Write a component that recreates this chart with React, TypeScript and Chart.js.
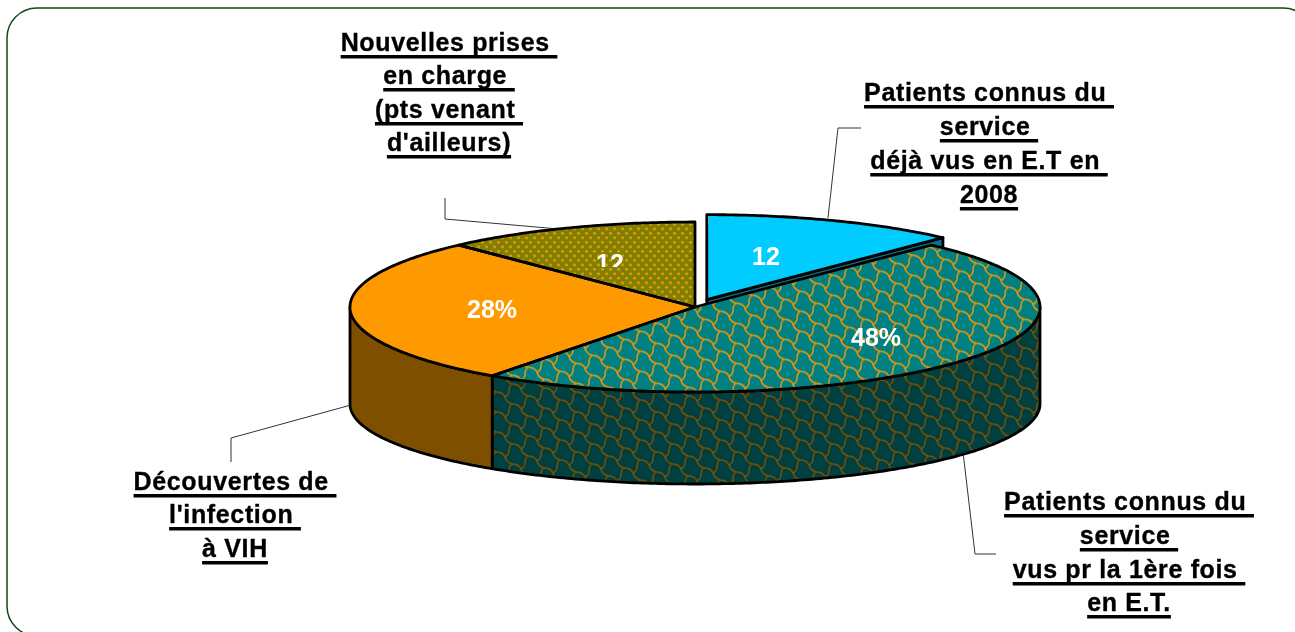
import React, { useEffect, useRef } from "react";
import { Chart, registerables } from "chart.js";

Chart.register(...registerables);

const categories = [
  "Patients connus du service déjà vus en E.T en 2008",
  "Patients connus du service vus pr la 1ère fois en E.T.",
  "Découvertes de l'infection à VIH",
  "Nouvelles prises en charge (pts venant d'ailleurs)",
];
const shares = [12, 48, 28, 12];
const valueLabels = ["12", "48%", "28%", "12"];
const explode = [128, 0, 0, 0];

const RADIUS = 345;
const SQUASH = 85 / 345;
const DEPTH = 97;
const BOTTOM_SQUASH = 80 / 345;
const FONT = '"Liberation Sans", Arial, sans-serif';

const labelSpots = [
  { x: 766, y: 258 },
  { x: 876, y: 339 },
  { x: 492, y: 311 },
  { x: 610, y: 265, clipBelow: 267 },
];

const callouts = [
  {
    x: 989,
    lines: ["Patients connus du ", "service ", "déjà vus en E.T en ", "2008"],
    baselines: [101, 135, 169, 203],
    leader: [[861, 128], [838, 128], [828, 218]],
  },
  {
    x: 449,
    lines: ["Nouvelles prises ", "en charge ", "(pts venant ", "d'ailleurs)"],
    baselines: [51, 84, 118, 151],
    leader: [[445, 198], [445, 219], [570, 230]],
  },
  {
    x: 235,
    lines: ["Découvertes de ", "l'infection ", "à VIH"],
    baselines: [490, 523, 557],
    leader: [[231, 462], [231, 438], [351, 405]],
  },
  {
    x: 1129,
    lines: ["Patients connus du ", "service ", "vus pr la 1ère fois ", "en E.T."],
    baselines: [510, 544, 578, 611],
    leader: [[963, 452], [975, 554], [996, 554]],
  },
];

function tile(w: number, h: number, paint: (c: CanvasRenderingContext2D) => void) {
  const cv = document.createElement("canvas");
  cv.width = w;
  cv.height = h;
  paint(cv.getContext("2d") as CanvasRenderingContext2D);
  return cv;
}

function shingle(bg: string, line: string) {
  return tile(80, 20, (c) => {
    c.fillStyle = bg;
    c.fillRect(0, 0, 80, 20);
    c.strokeStyle = line;
    c.lineWidth = 1.4;
    for (let i = -2; i < 7; i++) {
      for (let j = -6; j < 6; j++) {
        const x = i * 16;
        const y = j * 20 + i * 12;
        c.beginPath();
        c.moveTo(x, y);
        c.quadraticCurveTo(x + 7, y + 0, x + 9, y + 5);
        c.quadraticCurveTo(x + 10, y + 10, x + 16, y + 12);
        c.moveTo(x + 9, y + 5);
        c.quadraticCurveTo(x + 13, y + 3, x + 13, y - 1);
        c.quadraticCurveTo(x + 13, y - 6, x + 16, y - 8);
        c.stroke();
      }
    }
  });
}

function dotted(bg: string, dot: string) {
  return tile(8, 9, (c) => {
    c.fillStyle = bg;
    c.fillRect(0, 0, 8, 9);
    c.fillStyle = dot;
    c.fillRect(1, 1, 3, 2);
    c.fillRect(5, 5.5, 3, 2);
  });
}

function pie3dPlugin(wallFills: (string | CanvasPattern)[]) {
  const topPoint = (arc: any, th: number, depth = false) => {
    const half = (arc.startAngle + arc.endAngle) / 2;
    const off = (arc.options.offset || 0) / 4;
    const ox = arc.x + Math.cos(half) * off;
    const oy = arc.y + SQUASH * Math.sin(half) * off;
    return depth
      ? [ox + RADIUS * Math.cos(th), oy + DEPTH + RADIUS * BOTTOM_SQUASH * Math.sin(th)]
      : [ox + RADIUS * Math.cos(th), oy + RADIUS * SQUASH * Math.sin(th)];
  };
  const apex = (arc: any, depth = false) => {
    const half = (arc.startAngle + arc.endAngle) / 2;
    const off = (arc.options.offset || 0) / 4;
    return [arc.x + Math.cos(half) * off, arc.y + SQUASH * Math.sin(half) * off + (depth ? DEPTH : 0)];
  };
  const trace = (ctx: CanvasRenderingContext2D, arc: any, a: number, b: number, depth: boolean) => {
    const n = Math.max(2, Math.ceil(Math.abs(b - a) * 80));
    for (let i = 0; i <= n; i++) {
      const p = topPoint(arc, a + ((b - a) * i) / n, depth);
      ctx.lineTo(p[0], p[1]);
    }
  };
  return {
    id: "pie3d",
    beforeDraw(chart: any) {
      const ctx = chart.ctx;
      ctx.save();
      ctx.strokeStyle = "#0d4a1c";
      ctx.lineWidth = 1.5;
      ctx.beginPath();
      ctx.roundRect(7, 8, 1306, 628, 30);
      ctx.stroke();
      ctx.restore();
    },
    beforeDatasetsDraw(chart: any) {
      const ctx = chart.ctx;
      const arcs = chart.getDatasetMeta(0).data;
      arcs.forEach((arc: any) => {
        const off = (arc.options.offset || 0) / 4;
        const fix = 1 - Math.sin(Math.min(Math.PI, arc.circumference));
        arc.outerRadius = RADIUS - off * fix;
      });
      ctx.save();
      ctx.strokeStyle = "#333333";
      ctx.lineWidth = 1;
      callouts.forEach((c) => {
        ctx.beginPath();
        c.leader.forEach((p, i) => (i ? ctx.lineTo(p[0], p[1]) : ctx.moveTo(p[0], p[1])));
        ctx.stroke();
      });
      ctx.strokeStyle = "#000";
      ctx.lineWidth = 2.8;
      ctx.lineJoin = "round";
      arcs.forEach((arc: any, i: number) => {
        if (!arc.options.offset) return;
        const a = apex(arc);
        const b = apex(arc, true);
        const t = topPoint(arc, arc.endAngle);
        const u = topPoint(arc, arc.endAngle, true);
        ctx.beginPath();
        ctx.moveTo(a[0], a[1]);
        ctx.lineTo(t[0], t[1]);
        ctx.lineTo(u[0], u[1]);
        ctx.lineTo(b[0], b[1]);
        ctx.closePath();
        ctx.fillStyle = wallFills[i];
        ctx.fill();
        ctx.stroke();
      });
      arcs.forEach((arc: any, i: number) => {
        const a = Math.max(arc.startAngle, 0);
        const b = Math.min(arc.endAngle, Math.PI);
        if (b <= a) return;
        ctx.beginPath();
        const s = topPoint(arc, a);
        ctx.moveTo(s[0], s[1]);
        trace(ctx, arc, a, b, false);
        trace(ctx, arc, b, a, true);
        ctx.closePath();
        ctx.fillStyle = wallFills[i];
        ctx.fill();
        ctx.stroke();
      });
      ctx.restore();
      const cy = arcs[0].y;
      ctx.save();
      ctx.translate(0, cy);
      ctx.scale(1, SQUASH);
      ctx.translate(0, -cy);
    },
    afterDatasetsDraw(chart: any) {
      const ctx = chart.ctx;
      ctx.restore();
      const arcs = chart.getDatasetMeta(0).data;
      ctx.save();
      ctx.strokeStyle = "#000";
      ctx.lineWidth = 2.8;
      ctx.lineJoin = "round";
      arcs.forEach((arc: any) => {
        const a = apex(arc);
        ctx.beginPath();
        ctx.moveTo(a[0], a[1]);
        trace(ctx, arc, arc.startAngle, arc.endAngle, false);
        ctx.closePath();
        ctx.stroke();
      });
      ctx.textAlign = "center";
      ctx.textBaseline = "middle";
      ctx.fillStyle = "#fff";
      ctx.font = `bold 25px ${FONT}`;
      valueLabels.forEach((txt, i) => {
        const s: any = labelSpots[i];
        ctx.save();
        if (s.clipBelow) {
          ctx.beginPath();
          ctx.rect(s.x - 40, s.y - 40, 80, s.clipBelow - (s.y - 40));
          ctx.clip();
        }
        ctx.fillText(txt, s.x, s.y);
        ctx.restore();
      });
      ctx.fillStyle = "#000";
      ctx.strokeStyle = "#000";
      ctx.lineWidth = 0.35;
      ctx.font = `bold 25px ${FONT}`;
      (ctx as any).letterSpacing = "0.65px";
      ctx.textAlign = "left";
      ctx.textBaseline = "alphabetic";
      callouts.forEach((c) => {
        c.lines.forEach((line, i) => {
          const w = ctx.measureText(line).width;
          const x = c.x - w / 2;
          ctx.fillText(line, x, c.baselines[i]);
          ctx.strokeText(line, x, c.baselines[i]);
          ctx.fillRect(x, c.baselines[i] + 4, w, 3.5);
        });
      });
      ctx.restore();
    },
  };
}

export default function App() {
  const ref = useRef<HTMLCanvasElement>(null);
  useEffect(() => {
    const canvas = ref.current as HTMLCanvasElement;
    const ctx = canvas.getContext("2d") as CanvasRenderingContext2D;
    const flat = (p: CanvasPattern) => {
      p.setTransform(new DOMMatrix().scale(1, 1 / SQUASH));
      return p;
    };
    const tealTop = flat(ctx.createPattern(shingle("#008080", "#f79a06"), "repeat") as CanvasPattern);
    const oliveTop = flat(ctx.createPattern(dotted("#808000", "#f79a06"), "repeat") as CanvasPattern);
    const tealWall = ctx.createPattern(shingle("#004040", "#7f4f00"), "repeat") as CanvasPattern;
    const chart = new Chart(canvas, {
      type: "pie",
      data: {
        labels: categories,
        datasets: [
          {
            data: shares,
            backgroundColor: ["#00ccff", tealTop, "#ff9900", oliveTop],
            borderWidth: 0,
            offset: explode,
            radius: RADIUS,
            clip: false,
          } as any,
        ],
      },
      options: {
        animation: false,
        responsive: false,
        devicePixelRatio: 1,
        events: [],
        layout: { padding: { left: 95, bottom: 18 } },
        plugins: { legend: { display: false }, tooltip: { enabled: false } },
      },
      plugins: [pie3dPlugin(["#0b6f8c", tealWall, "#7f4f00", "#404000"]) as any],
    });
    return () => chart.destroy();
  }, []);
  return (
    <div style={{ position: "fixed", left: 0, top: 0, width: 1295, height: 632, background: "#fff", overflow: "hidden" }}>
      <canvas ref={ref} width={1295} height={632} style={{ display: "block" }} />
    </div>
  );
}
